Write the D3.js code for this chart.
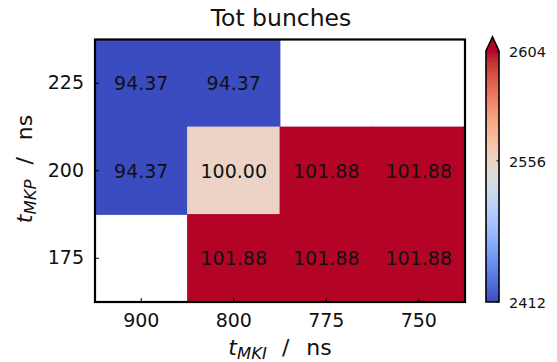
<!DOCTYPE html>
<html>
<head>
<meta charset="utf-8">
<script src="https://cdn.jsdelivr.net/npm/d3@7"></script>
<style>
  html, body { margin: 0; padding: 0; background: #fff; }
  svg { display: block; font-family: "DejaVu Sans", sans-serif; }
</style>
</head>
<body>
<svg id="chart" width="557" height="362"></svg>
<script>
// Kicker timing scan: total bunches for each (t_MKI, t_MKP) pair
const colLabels = ["900", "800", "775", "750"];   // t_MKI / ns
const rowLabels = ["225", "200", "175"];          // t_MKP / ns
const totBunches = [
  [2412, 2412, null, null],
  [2412, 2556, 2604, 2604],
  [null, 2604, 2604, 2604]
];
const refBunches = 2556;                 // nominal case, shown as 100.00
const cbarTicks = [2412, 2556, 2604];

// matplotlib "coolwarm" (Moreland diverging map), 33 samples
const coolwarm = [
  [59,76,192],[68,90,204],[77,104,215],[87,117,225],[98,130,234],[108,142,241],
  [119,154,247],[130,165,251],[141,176,254],[152,185,255],[163,194,255],[174,201,253],
  [184,208,249],[194,213,244],[204,217,238],[213,219,230],[221,221,221],[229,216,209],
  [236,211,197],[241,204,185],[245,196,173],[247,187,160],[247,177,148],[247,166,135],
  [244,154,123],[241,141,111],[236,127,99],[229,112,88],[222,96,77],[213,80,66],
  [203,62,56],[192,40,47],[180,4,38]
].map(c => d3.rgb(c[0], c[1], c[2]).formatHex());
const cmapLinear = d3.scaleLinear()
  .domain(coolwarm.map((_, i) => i / (coolwarm.length - 1)))
  .range(coolwarm).interpolate(d3.interpolateRgb).clamp(true);

// colour normalisation: value -> colormap fraction
const norm = d3.scaleLinear().domain(cbarTicks).range([0, 0.5625, 1]).clamp(true);

const svg = d3.select("#chart");
const plot = { left: 95, right: 465, top: 39.5, bottom: 302 };

const x = d3.scaleBand().domain(colLabels).range([plot.left, plot.right]).padding(0);
const y = d3.scaleBand().domain(rowLabels).range([plot.top, plot.bottom]).padding(0);

const cells = [];
rowLabels.forEach((r, i) => colLabels.forEach((c, j) => {
  const v = totBunches[i][j];
  if (v !== null) cells.push({ r, c, v });
}));

// heatmap cells (slightly overlapped so neighbours show no seam)
const ov = 0.4;
svg.append("g").selectAll("rect").data(cells).join("rect")
  .attr("x", d => x(d.c) - ov).attr("y", d => y(d.r) - ov)
  .attr("width", x.bandwidth() + 2 * ov).attr("height", y.bandwidth() + 2 * ov)
  .attr("fill", d => cmapLinear(norm(d.v)));

// cell annotations: percentage of the nominal bunch count
svg.append("g").selectAll("text").data(cells).join("text")
  .attr("x", d => x(d.c) + x.bandwidth() / 2)
  .attr("y", d => y(d.r) + y.bandwidth() / 2)
  .attr("text-anchor", "middle").attr("dominant-baseline", "central")
  .attr("font-size", 19).attr("fill", "#111")
  .text(d => (d.v / refBunches * 100).toFixed(2));

// axes (ticks point inward)
const xAxis = svg.append("g").attr("transform", `translate(0,${plot.bottom})`)
  .call(d3.axisBottom(x).tickSizeInner(-4).tickSizeOuter(0).tickPadding(12));
const yAxis = svg.append("g").attr("transform", `translate(${plot.left},0)`)
  .call(d3.axisLeft(y).tickSizeInner(-4).tickSizeOuter(0).tickPadding(11));
[xAxis, yAxis].forEach(g => {
  g.select(".domain").remove();
  g.selectAll("line").attr("stroke", "#000").attr("stroke-width", 1);
  g.selectAll("text").attr("font-size", 19).attr("fill", "#111")
    .attr("font-family", "DejaVu Sans, sans-serif");
});

// plot frame
svg.append("rect")
  .attr("x", plot.left).attr("y", plot.top)
  .attr("width", plot.right - plot.left).attr("height", plot.bottom - plot.top)
  .attr("fill", "none").attr("stroke", "#000").attr("stroke-width", 2.2);

// title
svg.append("text").attr("x", 281).attr("y", 26).attr("text-anchor", "middle")
  .attr("font-size", 23.5).attr("fill", "#111").text("Tot bunches");

// axis labels: italic t with subscript, then " / ns"
function axisLabel(sel, sub) {
  sel.append("tspan").attr("font-style", "italic").text("t");
  sel.append("tspan").attr("font-style", "italic").attr("font-size", 16.5)
    .attr("dy", 3.5).text(sub);
  sel.append("tspan").attr("dy", -3.5).attr("dx", 15).text("/");
  sel.append("tspan").attr("dx", 17).text("ns");
}
const xl = svg.append("text").attr("x", 280).attr("y", 355)
  .attr("text-anchor", "middle").attr("font-size", 22).attr("fill", "#111");
axisLabel(xl, "MKI");

const yl = svg.append("text")
  .attr("transform", `translate(32,169) rotate(-90)`)
  .attr("text-anchor", "middle").attr("font-size", 22).attr("fill", "#111");
axisLabel(yl, "MKP");

// colorbar with "extend max" triangle
const cb = { x: 486, w: 13, top: 51, bottom: 302, tip: 37 };
const defs = svg.append("defs");
const grad = defs.append("linearGradient").attr("id", "cbgrad")
  .attr("x1", 0).attr("y1", 1).attr("x2", 0).attr("y2", 0);
d3.range(0, 1.0001, 1 / 64).forEach(t => {
  grad.append("stop").attr("offset", t).attr("stop-color", cmapLinear(t));
});
const cbY = d3.scaleLinear().domain([0, 1]).range([cb.bottom, cb.top]);
svg.append("rect").attr("x", cb.x).attr("y", cb.top)
  .attr("width", cb.w).attr("height", cb.bottom - cb.top).attr("fill", "url(#cbgrad)");
svg.append("path")
  .attr("d", `M${cb.x},${cb.top} L${cb.x + cb.w / 2},${cb.tip} L${cb.x + cb.w},${cb.top} Z`)
  .attr("fill", cmapLinear(1));
svg.append("path")
  .attr("d", `M${cb.x},${cb.bottom} L${cb.x},${cb.top} L${cb.x + cb.w / 2},${cb.tip} L${cb.x + cb.w},${cb.top} L${cb.x + cb.w},${cb.bottom} Z`)
  .attr("fill", "none").attr("stroke", "#000").attr("stroke-width", 1.6);
const cbTicks = svg.append("g");
cbTicks.selectAll("line").data(cbarTicks).join("line")
  .attr("x1", cb.x + cb.w - 2.5).attr("x2", cb.x + cb.w)
  .attr("y1", d => cbY(norm(d))).attr("y2", d => cbY(norm(d)))
  .attr("stroke", "#000").attr("stroke-width", 1);
cbTicks.selectAll("text").data(cbarTicks).join("text")
  .attr("x", 509).attr("y", d => cbY(norm(d)) + 1)
  .attr("dominant-baseline", "central").attr("font-size", 14.5).attr("fill", "#111")
  .text(d => d);
</script>
</body>
</html>
